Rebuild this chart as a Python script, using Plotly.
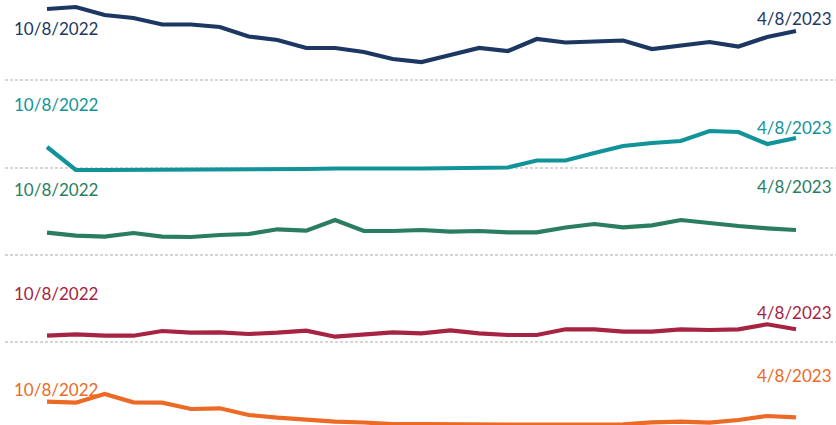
import pandas as pd
import plotly.graph_objects as go

# ---- data (index values, one row per series) ----
dates = pd.date_range("2022-10-08", periods=27, freq="7D")
start_label = "10/8/2022"
end_label = "4/8/2023"

navy_vals = [71, 73, 65, 62, 55.5, 55.5, 53, 43.5, 40, 32, 32, 28, 21, 18, 25, 32, 29,
             41, 37.5, 38, 39.5, 31, 35, 38, 33.5, 43, 49]
teal_vals = [21, -2, -2, -2, -1.5, -1, -1.5, -1, -1, -1, -0.5, -1, -0.5, -0.5, 0, 1, 0.5,
             7.5, 7.5, 15, 22, 25, 27, 37, 36, 24, 30]
green_vals = [22.3, 19.3, 18.3, 22, 18.3, 18, 20, 21, 25.7, 24.3, 35, 24, 24, 25, 23.3, 24,
              22.7, 22.7, 27.5, 31, 27.7, 29.7, 35, 31.7, 29, 26.7, 25]
red_vals = [6.3, 7.7, 6.3, 6.3, 11, 9.3, 9.7, 8, 9.3, 11.3, 5.3, 7.7, 9.7, 8.7, 11.7, 8.7,
            7, 7, 12.7, 12.7, 10.3, 10.3, 12.7, 12, 12.7, 17.7, 12.7]
orange_vals = [27.3, 26.3, 35, 26.7, 26.3, 20, 20.7, 14, 11.3, 9, 7.3, 6.5, 5, 5, 4.5, 4.5,
               4.5, 4.5, 4, 4.3, 4.7, 6.7, 7.3, 6.3, 9, 13, 11.7]

series = [navy_vals, teal_vals, green_vals, red_vals, orange_vals]
colors = ["#1d3763", "#12939a", "#2a7d5e", "#a62342", "#eb6a25"]

# ---- layout / styling ----
W, H = 836, 425
row_base_px = [80, 168, 255, 342, 429]      # pixel row of each row's zero line
left_label_px = [28, 104, 190, 293, 389]
right_label_px = [19, 128, 187, 312, 375]
FONT = "Lato"
FSIZE = 17

fig = go.Figure()
span = dates[-1] - dates[0]
x_lo = dates[0] - span * (47 / 749)
x_hi = dates[-1] + span * (40 / 749)

layout_axes = {}
shapes = []
annotations = []
for i, (vals, col) in enumerate(zip(series, colors)):
    yname = "y" if i == 0 else f"y{i+1}"
    axkey = "yaxis" if i == 0 else f"yaxis{i+1}"
    fig.add_trace(go.Scatter(x=dates, y=vals, mode="lines", yaxis=yname,
                             line=dict(color=col, width=4.2), hoverinfo="skip",
                             showlegend=False))
    B = row_base_px[i]
    ax = dict(range=[B - H, B], domain=[0, 1], visible=False, fixedrange=True)
    if i > 0:
        ax["overlaying"] = "y"
    layout_axes[axkey] = ax
    if i < 4:
        shapes.append(dict(type="line", xref="paper", yref=yname, x0=5 / W, x1=1,
                           y0=0, y1=0, line=dict(color="#c9c9c9", width=1.6, dash="3px,2px"),
                           layer="below"))
    annotations.append(dict(xref="paper", yref="paper", x=12 / W, y=1 - left_label_px[i] / H,
                            xanchor="left", yanchor="middle", text=start_label,
                            showarrow=False, font=dict(family=FONT, size=FSIZE, color=col)))
    annotations.append(dict(xref="paper", yref="paper", x=834 / W, y=1 - right_label_px[i] / H,
                            xanchor="right", yanchor="middle", text=end_label,
                            showarrow=False, font=dict(family=FONT, size=FSIZE, color=col)))

fig.update_layout(
    width=W, height=H,
    margin=dict(l=0, r=0, t=0, b=0),
    paper_bgcolor="white", plot_bgcolor="white",
    xaxis=dict(range=[x_lo, x_hi], visible=False, fixedrange=True),
    shapes=shapes, annotations=annotations,
    **layout_axes,
)

fig.write_html("out.html", config={"displayModeBar": False},
               post_script="document.body.style.margin='0';document.body.style.overflow='hidden';")
